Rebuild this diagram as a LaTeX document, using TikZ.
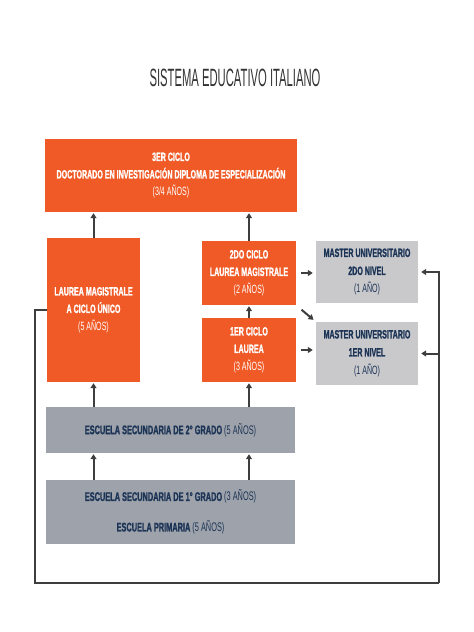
\documentclass[tikz,border=0pt]{standalone}
\usepackage{fontspec}
\setmainfont{Liberation Sans}[FakeStretch=0.59,BoldFeatures={FakeBold=1.2}]
\newfontfamily\titlefont{Liberation Sans}[FakeStretch=0.45]
\usetikzlibrary{arrows.meta}

\definecolor{naranja}{RGB}{240,90,38}
\definecolor{grisosc}{RGB}{158,162,170}
\definecolor{grisclaro}{RGB}{201,201,204}
\definecolor{azul}{RGB}{28,52,86}
\definecolor{trazo}{RGB}{62,62,62}

\begin{document}
\begin{tikzpicture}[x=1pt,y=-1pt,
    caja/.style={rectangle,inner sep=0pt,align=center,font=\fontsize{12}{17.5}\selectfont\bfseries},
    nar/.style={caja,fill=naranja,text=white},
    gris/.style={caja,fill=grisosc,text=azul,font=\fontsize{12.5}{17.5}\selectfont\bfseries},
    master/.style={caja,fill=grisclaro,text=azul,font=\fontsize{12}{18}\selectfont\bfseries},
    linea/.style={draw=trazo,line width=2pt},
    flecha/.style={linea,-{Triangle[length=5pt,width=6pt]}}]
  \path[use as bounding box] (0,0) rectangle (474,632);

  \node[font=\titlefont\fontsize{25}{25}\selectfont,text=black!80] (titulo) at (235,78) {SISTEMA EDUCATIVO ITALIANO};

  % cajas
  \node[nar,minimum width=252pt,minimum height=73pt] (tercer) at (171,175.5)
    {3ER CICLO\\DOCTORADO EN INVESTIGACIÓN DIPLOMA DE ESPECIALIZACIÓN\\\mdseries(3/4 AÑOS)};
  \node[nar,minimum width=93pt,minimum height=144pt] (unico) at (93.5,310)
    {LAUREA MAGISTRALE\\A CICLO ÚNICO\\\mdseries(5 AÑOS)};
  \node[nar,minimum width=94pt,minimum height=64pt] (segundo) at (249,273)
    {2DO CICLO\\LAUREA MAGISTRALE\\\mdseries(2 AÑOS)};
  \node[nar,minimum width=94pt,minimum height=64pt] (primero) at (249,350)
    {1ER CICLO\\LAUREA\\\mdseries(3 AÑOS)};
  \node[master,minimum width=102pt,minimum height=62pt] (master2) at (367,272)
    {MASTER UNIVERSITARIO\\2DO NIVEL\\\mdseries(1 AÑO)};
  \node[master,minimum width=102pt,minimum height=63pt] (master1) at (367,353.5)
    {MASTER UNIVERSITARIO\\1ER NIVEL\\\mdseries(1 AÑO)};
  \node[gris,minimum width=249pt,minimum height=46pt] (sec2) at (170.5,430)
    {ESCUELA SECUNDARIA DE 2° GRADO {\mdseries(5 AÑOS)}};
  \node[gris,minimum width=249pt,minimum height=64pt] (sec1) at (170.5,512)
    {ESCUELA SECUNDARIA DE 1° GRADO {\mdseries(3 AÑOS)}\\[13pt]ESCUELA PRIMARIA {\mdseries(5 AÑOS)}};

  % flechas
  \draw[flecha,shorten >=1pt] (unico) -- (unico |- tercer.south);
  \draw[flecha,shorten >=1pt] (segundo) -- (segundo |- tercer.south);
  \draw[flecha,shorten >=1pt] (primero) -- (segundo);
  \draw[flecha,shorten >=1pt] (unico |- sec2.north) -- (unico);
  \draw[flecha,shorten >=1pt] (primero |- sec2.north) -- (primero);
  \draw[flecha,shorten >=1pt] (unico |- sec1.north) -- (unico |- sec2.south);
  \draw[flecha,shorten >=1pt] (primero |- sec1.north) -- (primero |- sec2.south);
  \draw[flecha,shorten <=5pt,shorten >=3pt] (segundo.east) -- (segundo.east -| master2.west);
  \draw[flecha,shorten <=5pt,shorten >=3pt] (primero.east) -- (primero.east -| master1.west);
  \draw[flecha,shorten <=7pt,shorten >=3pt] (segundo.south east) -- (master1.north west);

  % vuelta por abajo
  \coordinate (abajoizq) at (35,583);
  \coordinate (abajoder) at (439,583);
  \draw[linea] (unico.west) -| (abajoizq) -- (abajoder);
  \draw[flecha,shorten >=3pt] (abajoder) |- (master2.east);
  \draw[flecha,shorten >=3pt] (abajoder |- master1.east) -- (master1.east);
\end{tikzpicture}
\end{document}
